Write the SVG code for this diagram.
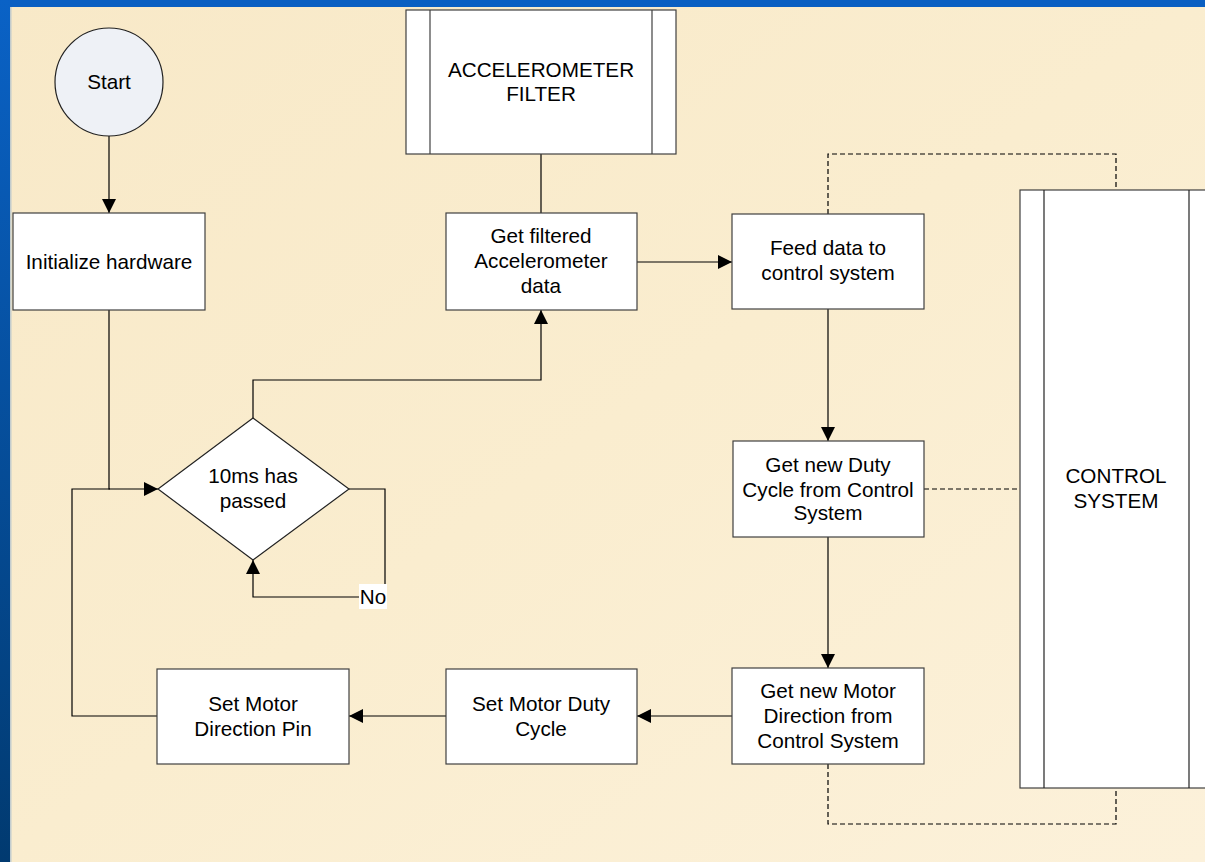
<svg xmlns="http://www.w3.org/2000/svg" width="1205" height="862" viewBox="0 0 1205 862">
<defs>
<linearGradient id="blueL" x1="0" y1="0" x2="0" y2="1">
<stop offset="0" stop-color="#0a62c6"/>
<stop offset="1" stop-color="#013a70"/>
</linearGradient>
<linearGradient id="cream" x1="0" y1="0" x2="1" y2="1">
<stop offset="0" stop-color="#f8e9c8"/>
<stop offset="0.5" stop-color="#faedcf"/>
<stop offset="1" stop-color="#fcf1da"/>
</linearGradient>
<marker id="arr" viewBox="0 0 14 14" refX="14" refY="7" markerWidth="14" markerHeight="14" markerUnits="userSpaceOnUse" orient="auto">
<path d="M0,0 L14,7 L0,14 Z" fill="#000"/>
</marker>
<style>
.box{fill:#fff;stroke:#404040;stroke-width:1.2}
.ln{fill:none;stroke:#000;stroke-width:1.2}
.ar{fill:none;stroke:#000;stroke-width:1.2;marker-end:url(#arr)}
.ds{fill:none;stroke:#000;stroke-width:1.2;stroke-dasharray:5,3}
text{font-family:"Liberation Sans",Arial,sans-serif;font-size:20.7px;fill:#000;text-anchor:middle}
</style>
</defs>
<rect x="0" y="0" width="1205" height="862" fill="url(#cream)"/>
<rect x="0" y="0" width="1205" height="7" fill="#0a5fc2"/>
<rect x="0" y="0" width="10" height="862" fill="url(#blueL)"/>
<rect x="10" y="7" width="1.5" height="855" fill="#9fb7cf" opacity="0.6"/>

<g id="connectors">
<path class="ar" d="M109,136 V213"/>
<path class="ar" d="M109,310 V489 H158"/>
<path class="ln" d="M157,716 H72 V489 H110"/>
<path class="ar" d="M253,418 V380 H541 V310"/>
<path class="ar" d="M349,489 H385 V597 H253 V560"/>
<path class="ln" d="M541,154 V213"/>
<path class="ar" d="M637,262 H732"/>
<path class="ar" d="M828,309 V441"/>
<path class="ar" d="M828,537 V668"/>
<path class="ar" d="M732,716 H637"/>
<path class="ar" d="M446,716 H349"/>
<path class="ds" d="M828,214 V154 H1116 V190"/>
<path class="ds" d="M924,489 H1020"/>
<path class="ds" d="M828,764 V824 H1116 V788"/>
</g>

<g id="label-no">
<rect x="359" y="584" width="28" height="25" fill="#fff"/>
<text x="373" y="604">No</text>
</g>

<g id="start">
<circle cx="109" cy="82" r="54" fill="#eef1f6" stroke="#222" stroke-width="1.2"/>
<text x="109" y="89">Start</text>
</g>

<g id="init">
<rect class="box" x="13" y="213" width="192" height="97"/>
<text x="109" y="269">Initialize hardware</text>
</g>

<g id="accel-filter">
<rect class="box" x="406" y="10" width="270" height="144"/>
<line x1="430" y1="10" x2="430" y2="154" stroke="#404040" stroke-width="1.2"/>
<line x1="652" y1="10" x2="652" y2="154" stroke="#404040" stroke-width="1.2"/>
<text x="541" y="77">ACCELEROMETER</text>
<text x="541" y="101">FILTER</text>
</g>

<g id="get-filtered">
<rect class="box" x="446" y="213" width="191" height="97"/>
<text x="541" y="243">Get filtered</text>
<text x="541" y="268">Accelerometer</text>
<text x="541" y="293">data</text>
</g>

<g id="feed-data">
<rect class="box" x="732" y="214" width="192" height="95"/>
<text x="828" y="255">Feed data to</text>
<text x="828" y="280">control system</text>
</g>

<g id="decision">
<polygon points="253,418 349,489 253,560 158,489" fill="#fff" stroke="#222" stroke-width="1.2"/>
<text x="253" y="483">10ms has</text>
<text x="253" y="508">passed</text>
</g>

<g id="get-duty">
<rect class="box" x="733" y="441" width="191" height="96"/>
<text x="828" y="472">Get new Duty</text>
<text x="828" y="497">Cycle from Control</text>
<text x="828" y="520">System</text>
</g>

<g id="control-system">
<rect class="box" x="1020" y="190" width="200" height="598"/>
<line x1="1044" y1="190" x2="1044" y2="788" stroke="#222" stroke-width="1.2"/>
<line x1="1189" y1="190" x2="1189" y2="788" stroke="#222" stroke-width="1.2"/>
<text x="1116" y="483">CONTROL</text>
<text x="1116" y="508">SYSTEM</text>
</g>

<g id="get-direction">
<rect class="box" x="732" y="668" width="192" height="96"/>
<text x="828" y="698">Get new Motor</text>
<text x="828" y="723">Direction from</text>
<text x="828" y="748">Control System</text>
</g>

<g id="set-duty">
<rect class="box" x="446" y="669" width="191" height="95"/>
<text x="541" y="711">Set Motor Duty</text>
<text x="541" y="736">Cycle</text>
</g>

<g id="set-direction">
<rect class="box" x="157" y="669" width="192" height="95"/>
<text x="253" y="711">Set Motor</text>
<text x="253" y="736">Direction Pin</text>
</g>
</svg>
